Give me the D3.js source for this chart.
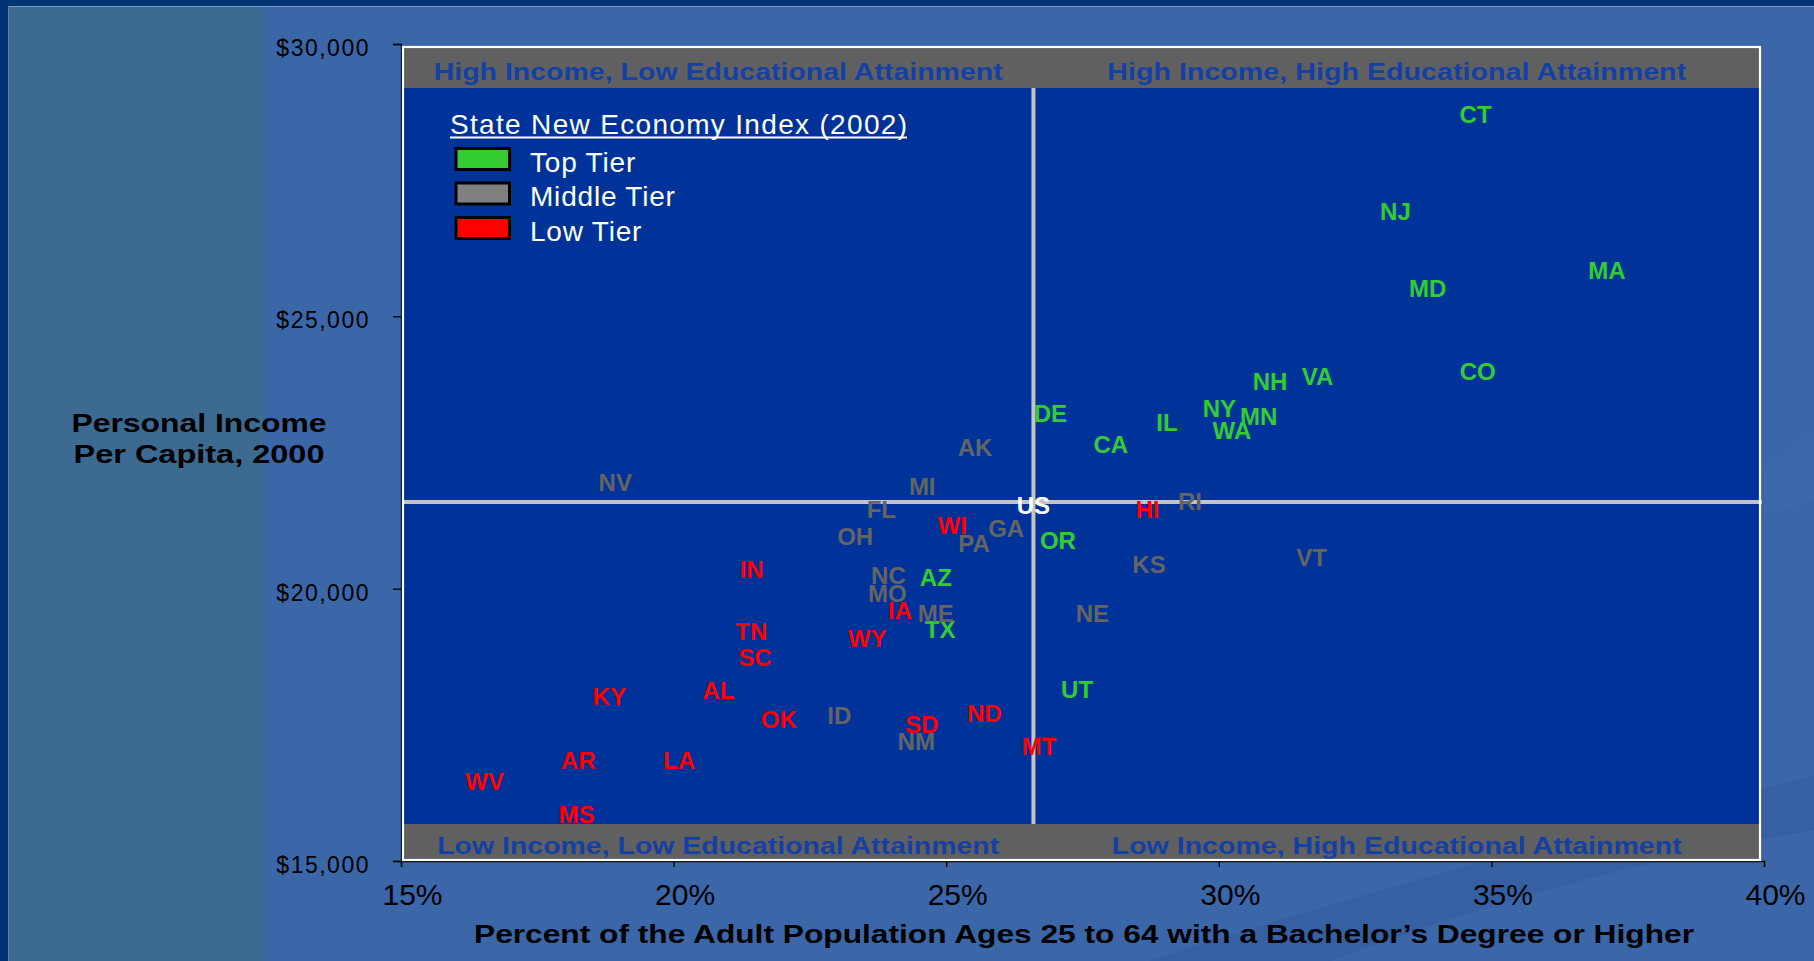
<!DOCTYPE html>
<html>
<head>
<meta charset="utf-8">
<script src="https://cdn.jsdelivr.net/npm/d3@7"></script>
<style>
  html, body { margin: 0; padding: 0; background: #003472; overflow: hidden; }
  svg { display: block; }
  text { font-family: "Liberation Sans", Arial, sans-serif; }
</style>
</head>
<body>
<svg id="chart" width="1814" height="961"></svg>
<script>
// ---- data: state, share of adults 25-64 with a BA+ (%), per-capita income ($), New Economy tier
const states = ["CT","NJ","MA","MD","CO","VA","NH","NY","MN","WA","IL","DE","CA","AZ","OR","TX","UT",
                "AK","NV","MI","RI","FL","GA","OH","PA","KS","VT","NC","MO","ME","NE","ID","NM",
                "HI","WI","IN","IA","TN","WY","SC","AL","KY","OK","SD","ND","MT","AR","LA","WV","MS"];
const eduPct = [34.71,33.24,37.12,33.83,34.75,31.81,30.94,30.01,30.73,30.24,29.05,26.91,28.02,24.81,27.05,24.89,27.40,
                25.53,18.93,24.56,29.47,23.81,26.10,23.33,25.51,28.72,31.70,23.94,23.92,24.81,27.68,23.04,24.45,
                28.69,25.11,21.43,24.15,21.42,23.55,21.49,20.82,18.82,21.93,24.55,25.70,26.70,18.25,20.10,16.53,18.22];
const income = [28700,26920,25850,25520,23990,23890,23800,23310,23170,22900,23055,23225,22655,20210,20895,19260,18150,
                22590,21950,21875,21610,21465,21100,20955,20825,20440,20570,20250,19910,19550,19550,17670,17195,
                21465,21155,20360,19595,19220,19095,18735,18125,18030,17595,17500,17705,17110,16840,16855,16460,15865];
const tiers  = ["Top","Top","Top","Top","Top","Top","Top","Top","Top","Top","Top","Top","Top","Top","Top","Top","Top",
                "Middle","Middle","Middle","Middle","Middle","Middle","Middle","Middle","Middle","Middle","Middle","Middle","Middle","Middle","Middle","Middle",
                "Low","Low","Low","Low","Low","Low","Low","Low","Low","Low","Low","Low","Low","Low","Low","Low","Low"];

// national benchmark that splits the quadrants
const usLabel = "US";
const usEdu = 26.6;
const usIncome = 21590;

const xTicks = [15, 20, 25, 30, 35, 40];
const yTicks = [15000, 20000, 25000, 30000];

const tierNames  = ["Top Tier", "Middle Tier", "Low Tier"];
const tierKeys   = ["Top", "Middle", "Low"];
const legendTitle = "State New Economy Index (2002)";
const quadrantTitles = ["High Income, Low Educational Attainment", "High Income, High Educational Attainment",
                        "Low Income, Low Educational Attainment", "Low Income, High Educational Attainment"];
const xTitle = "Percent of the Adult Population Ages 25 to 64 with a Bachelor\u2019s Degree or Higher";
const yTitle = ["Personal Income", "Per Capita, 2000"];

// ---- styling
const labelColor  = { Top: "#33cc33", Middle: "#646464", Low: "#ff0000" };
const swatchColor = { Top: "#33cc33", Middle: "#808080", Low: "#ff0000" };

const svg = d3.select("#chart");

// ---- slide background
svg.append("rect").attr("x", 0).attr("y", 0).attr("width", 1814).attr("height", 961).attr("fill", "#003472");
svg.append("rect").attr("x", 8).attr("y", 6).attr("width", 1806).attr("height", 955).attr("fill", "#3b66a8");
svg.append("path")
  .attr("d", "M1150,961 C1400,880 1600,830 1814,776 L1814,830 C1640,860 1480,905 1330,961 Z")
  .attr("fill", "#365f9f").attr("opacity", 0.8);
svg.append("path")
  .attr("d", "M1764,470 C1780,455 1795,445 1814,432 L1814,500 C1798,505 1780,510 1764,515 Z")
  .attr("fill", "#4069aa").attr("opacity", 0.6);
svg.append("rect").attr("x", 8).attr("y", 6).attr("width", 256).attr("height", 955).attr("fill", "#3c6a90");
svg.append("line").attr("x1", 8).attr("x2", 1814).attr("y1", 6.5).attr("y2", 6.5)
  .attr("stroke", "#7c97c6").attr("stroke-width", 1);
svg.append("line").attr("x1", 8.5).attr("x2", 8.5).attr("y1", 6).attr("y2", 961)
  .attr("stroke", "#5b7fb0").attr("stroke-width", 1);

// ---- scales
const x = d3.scaleLinear().domain([15, 40]).range([401, 1764]);
const y = d3.scaleLinear().domain([15000, 30000]).range([861, 44]);

// ---- axes
const yAxis = svg.append("g")
  .attr("transform", "translate(401,0)")
  .call(d3.axisLeft(y).tickValues(yTicks).tickSize(8).tickPadding(23)
        .tickFormat(d => "$" + d3.format(",")(d)));
yAxis.selectAll("path, line").attr("stroke", "#000").attr("stroke-width", 1.3);
yAxis.selectAll("text")
  .attr("fill", "#000").attr("font-size", 23).attr("letter-spacing", 1.5).attr("dy", "0.5em");

const xAxis = svg.append("g")
  .attr("transform", "translate(0,861)")
  .call(d3.axisBottom(x).tickValues(xTicks).tickSize(6).tickPadding(17)
        .tickFormat(d => d + "%"));
xAxis.selectAll("path, line").attr("stroke", "#000").attr("stroke-width", 1.3);
xAxis.selectAll("text")
  .attr("fill", "#000").attr("font-size", 30).attr("x", 11);

// ---- plot panel
const plotL = 403, plotR = 1760, plotT = 47, plotB = 860;
svg.append("rect").attr("x", plotL).attr("y", plotT).attr("width", plotR - plotL).attr("height", plotB - plotT)
  .attr("fill", "#003399");
svg.append("rect").attr("x", plotL + 1).attr("y", plotT + 1).attr("width", plotR - plotL - 2).attr("height", 40)
  .attr("fill", "#606060");
svg.append("rect").attr("x", plotL + 1).attr("y", plotB - 36).attr("width", plotR - plotL - 2).attr("height", 35)
  .attr("fill", "#606060");

// quadrant dividers through the US benchmark
const ux = x(usEdu), uy = y(usIncome);
svg.append("line").attr("x1", ux).attr("x2", ux).attr("y1", plotT + 41).attr("y2", plotB - 36)
  .attr("stroke", "#c4c4c4").attr("stroke-width", 4);
svg.append("line").attr("x1", plotL).attr("x2", plotR + 2).attr("y1", uy).attr("y2", uy)
  .attr("stroke", "#c4c4c4").attr("stroke-width", 4);

// quadrant captions
const qWidths = [569, 579, 562, 570];
const qPos = [
  [(plotL + ux) / 2, 80], [(ux + plotR) / 2, 80],
  [(plotL + ux) / 2, 854], [(ux + plotR) / 2, 854]
];
svg.append("g").selectAll("text").data(quadrantTitles).join("text")
  .attr("x", (d, i) => qPos[i][0]).attr("y", (d, i) => qPos[i][1])
  .attr("text-anchor", "middle").attr("font-size", 24).attr("font-weight", "bold")
  .attr("fill", "#1440a4")
  .attr("textLength", (d, i) => qWidths[i]).attr("lengthAdjust", "spacingAndGlyphs")
  .text(d => d);

// ---- state labels
const pts = states.map((s, i) => ({ s, e: eduPct[i], v: income[i], t: tiers[i] }));
svg.append("g").selectAll("text").data(pts).join("text")
  .attr("x", d => x(d.e)).attr("y", d => y(d.v)).attr("dy", "0.36em")
  .attr("text-anchor", "middle").attr("font-size", 24).attr("font-weight", "bold")
  .attr("fill", d => labelColor[d.t])
  .text(d => d.s);

svg.append("text")
  .attr("x", ux).attr("y", uy).attr("dy", "0.5em")
  .attr("text-anchor", "middle").attr("font-size", 24).attr("font-weight", "bold")
  .attr("fill", "#ffffff").text(usLabel);

// ---- legend
svg.append("text").attr("x", 450).attr("y", 134)
  .attr("font-size", 28).attr("fill", "#fff")
  .attr("textLength", 457).attr("lengthAdjust", "spacing")
  .text(legendTitle);
svg.append("line").attr("x1", 450).attr("x2", 907).attr("y1", 137.5).attr("y2", 137.5)
  .attr("stroke", "#fff").attr("stroke-width", 2);

const lg = svg.append("g").selectAll("g").data(tierKeys).join("g")
  .attr("transform", (d, i) => `translate(0,${i * 34.5})`);
lg.append("rect").attr("x", 456).attr("y", 148.5).attr("width", 53.5).attr("height", 21)
  .attr("fill", d => swatchColor[d]).attr("stroke", "#000").attr("stroke-width", 3);
lg.append("text").attr("x", 530).attr("y", 171.5)
  .attr("font-size", 28).attr("letter-spacing", 0.8).attr("fill", "#fff")
  .text((d, i) => tierNames[i]);

// ---- frame
svg.append("rect").attr("x", plotL).attr("y", plotT).attr("width", plotR - plotL).attr("height", plotB - plotT)
  .attr("fill", "none").attr("stroke", "#ffffff").attr("stroke-width", 2.2);

// ---- axis titles
svg.append("text").attr("x", 474).attr("y", 943)
  .attr("font-size", 26).attr("font-weight", "bold").attr("fill", "#000")
  .attr("textLength", 1220).attr("lengthAdjust", "spacingAndGlyphs")
  .text(xTitle);

svg.append("g").selectAll("text").data(yTitle).join("text")
  .attr("x", 199).attr("y", (d, i) => 432 + i * 31)
  .attr("text-anchor", "middle").attr("font-size", 26).attr("font-weight", "bold").attr("fill", "#000")
  .attr("textLength", (d, i) => [255, 251][i]).attr("lengthAdjust", "spacingAndGlyphs")
  .text(d => d);
</script>
</body>
</html>
